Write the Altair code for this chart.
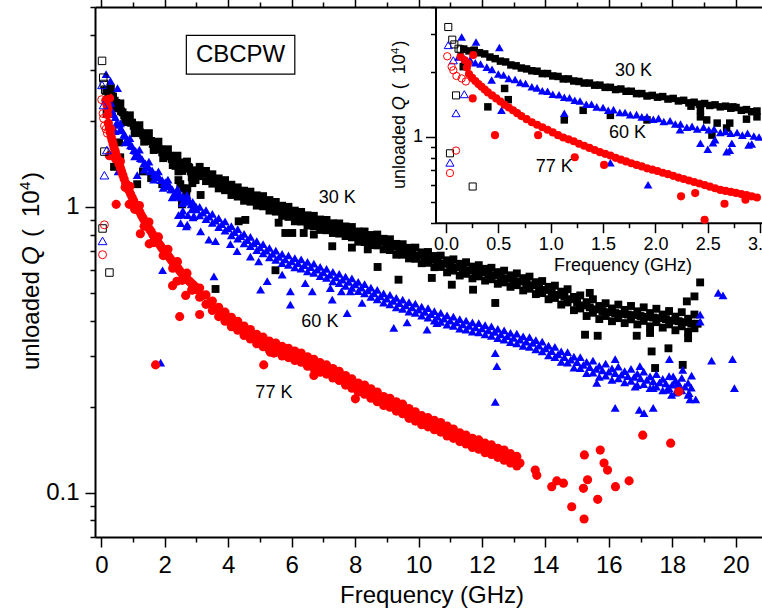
import altair as alt
import pandas as pd

FONT = "Liberation Sans"

# ---------------- data (frequency GHz, unloaded Q in units of 1e4) ----------------
# 30 K  (black squares)
s30_low = [(0.17,2.56),(0.22,2.51),(0.27,2.53),(0.32,2.46),(0.37,2.43),(0.42,2.35),(0.47,2.31),(0.52,2.25),(0.57,2.23),(0.62,2.16),
           (0.67,2.14),(0.72,2.09),(0.77,2.07),(0.82,2.03),(0.87,2.02),(0.92,1.97),(0.97,1.97),(1.02,1.92),(1.07,1.91),(1.12,1.86),
           (1.17,1.86),(1.22,1.82),(1.27,1.81),(1.32,1.78),(1.37,1.78),(1.42,1.74),(1.47,1.74),(1.52,1.70),(1.57,1.70),(1.62,1.66),
           (1.67,1.67),(1.72,1.63),(1.77,1.63),(1.82,1.59),(1.87,1.59),(1.92,1.55),(1.97,1.56),(2.02,1.53),(2.07,1.54),(2.12,1.50),
           (2.17,1.51),(2.22,1.47),(2.27,1.48),(2.32,1.44),(2.37,1.45),(2.42,1.42),(2.47,1.43),(2.52,1.40),(2.57,1.41),(2.62,1.38),
           (2.67,1.39),(2.72,1.36),(2.77,1.37),(2.82,1.33),(2.87,1.34),(2.92,1.31),(2.97,1.32)]
s30_low_main = [(0.3,2.6),(0.45,2.21),(0.6,2.3),(0.75,1.98),(0.9,2.09),(1.05,1.81),(1.2,1.93),(1.35,1.69),(1.5,1.81),(1.65,1.58),
                (1.8,1.69),(1.95,1.48),(2.1,1.59),(2.25,1.40),(2.4,1.51),(2.55,1.335),(2.7,1.44),(2.85,1.27)]
s30_rowA = [(3.0,1.34),(3.2,1.31),(3.4,1.27),(3.6,1.23),(3.8,1.20),(4.0,1.17),(4.2,1.14),(4.4,1.11),(4.6,1.09),(4.8,1.07),
            (5.0,1.05),(5.2,1.03),(5.4,1.01),(5.6,0.985),(5.8,0.965),(6.0,0.945),(6.2,0.93),(6.4,0.91),(6.6,0.895),(6.8,0.88),
            (7.0,0.865),(7.2,0.852),(7.4,0.84),(7.6,0.83),(7.8,0.82),(8.0,0.80),(8.2,0.785),(8.4,0.775),(8.6,0.765),(8.8,0.755),
            (9.0,0.74),(9.2,0.725),(9.4,0.71),(9.6,0.70),(9.8,0.69),(10.0,0.675),(10.2,0.665),(10.4,0.655),(10.6,0.645),(10.8,0.632),
            (11.0,0.625),(11.2,0.615),(11.4,0.608),(11.6,0.60),(11.8,0.595),(12.0,0.59),(12.2,0.582),(12.4,0.575),(12.6,0.568),(12.8,0.56),
            (13.0,0.555),(13.2,0.548),(13.4,0.54),(13.6,0.532),(13.8,0.522),(14.0,0.512),(14.2,0.502),(14.4,0.492),(14.6,0.485),(14.8,0.475),
            (15.0,0.462),(15.2,0.452),(15.4,0.445),(15.6,0.438),(15.8,0.432),(16.0,0.428),(16.2,0.425),(16.4,0.422),(16.6,0.42),(16.8,0.418),
            (17.0,0.415),(17.2,0.412),(17.4,0.41),(17.6,0.408),(17.8,0.405),(18.0,0.40),(18.2,0.398),(18.4,0.395),(18.6,0.39),(18.8,0.39)]
s30_rowB = [(3.1,1.38),(3.3,1.23),(3.5,1.30),(3.7,1.16),(3.9,1.24),(4.1,1.10),(4.3,1.17),(4.5,1.05),(4.7,1.13),(4.9,1.01),
            (5.1,1.09),(5.3,0.97),(5.5,1.04),(5.7,0.93),(5.9,1.0),(6.1,0.89),(6.3,0.96),(6.5,0.86),(6.7,0.93),(6.9,0.83),
            (7.1,0.90),(7.3,0.81),(7.5,0.875),(7.7,0.79),(7.9,0.85),(8.1,0.755),(8.3,0.82),(8.5,0.735),(8.7,0.80),(8.9,0.71),
            (9.1,0.77),(9.3,0.68),(9.5,0.74),(9.7,0.66),(9.9,0.72),(10.1,0.635),(10.3,0.695),(10.5,0.615),(10.7,0.675),(10.9,0.59),
            (11.1,0.655),(11.3,0.575),(11.5,0.64),(11.7,0.562),(11.9,0.625),(12.1,0.552),(12.3,0.612),(12.5,0.538),(12.7,0.598),(12.9,0.525),
            (13.1,0.585),(13.3,0.51),(13.5,0.57),(13.7,0.495),(13.9,0.55),(14.1,0.475),(14.3,0.53),(14.5,0.455),(14.7,0.515),(14.9,0.435),
            (15.1,0.49),(15.3,0.415),(15.5,0.475),(15.7,0.405),(15.9,0.46),(16.1,0.398),(16.3,0.455),(16.5,0.392),(16.7,0.45),(16.9,0.388),
            (17.1,0.445),(17.3,0.382),(17.5,0.44),(17.7,0.378),(17.9,0.432),(18.1,0.37),(18.3,0.428),(18.5,0.365),(18.7,0.42)]
s30_rowC = [(3.1,1.28),(3.3,1.335),(3.5,1.205),(3.7,1.257),(3.9,1.143),(4.1,1.195),(4.3,1.086),(4.5,1.139),(4.7,1.042),(4.9,1.097),
            (5.1,1.004),(5.3,1.056),(5.5,0.962),(5.7,1.009),(5.9,0.922),(6.1,0.970),(6.3,0.888),(6.5,0.934),(6.7,0.856),(6.9,0.903),
            (7.1,0.828),(7.3,0.876),(7.5,0.806),(7.7,0.854),(7.9,0.782),(8.1,0.820),(8.3,0.753),(8.5,0.797),(8.7,0.733),(8.9,0.773),
            (9.1,0.706),(9.3,0.742),(9.5,0.680),(9.7,0.719),(9.9,0.658),(10.1,0.693),(10.3,0.637),(10.5,0.673),(10.7,0.616),(10.9,0.650),
            (11.1,0.598),(11.3,0.632),(11.5,0.583),(11.7,0.618),(11.9,0.571),(12.1,0.607),(12.3,0.558),(12.5,0.591),(12.7,0.544),(12.9,0.576),
            (13.1,0.532),(13.3,0.563),(13.5,0.517),(13.7,0.545),(13.9,0.499),(14.1,0.525),(14.3,0.480),(14.5,0.505),(14.7,0.463),(14.9,0.484),
            (15.1,0.441),(15.3,0.464),(15.5,0.426),(15.7,0.450),(15.9,0.415),(16.1,0.441),(16.3,0.408),(16.5,0.436),(16.7,0.404),(16.9,0.431),
            (17.1,0.399),(17.3,0.425),(17.5,0.395),(17.7,0.420),(17.9,0.388),(18.1,0.413),(18.3,0.382),(18.5,0.406),(18.7,0.376)]
s30_scatter = [(0.165,2.12),(0.40,1.38),(0.56,1.68),(0.595,1.49),(1.13,1.20),(1.31,1.33),(1.57,1.26),(1.92,1.20),(2.34,1.39),(2.43,1.24),
               (2.43,1.33),(2.49,1.20),(2.54,1.02),(2.59,1.16),(2.68,1.10),(2.71,1.16),(2.74,1.38),(2.87,1.21),(2.97,1.24),
               (3.13,1.10),(3.6,0.516),(4.33,0.89),(4.54,0.90),(5.49,0.60),(5.59,0.88),(5.80,0.81),(6.02,0.81),(6.38,0.81),(6.7,0.80),
               (7.28,0.728),(7.9,0.72),(8.4,0.71),(8.71,0.616),(9.37,0.556),(10.42,0.564),(11.05,0.534),(11.72,0.513),(12.42,0.461),
               (15.25,0.357),(15.65,0.354),(16.88,0.354),(17.3,0.362),(17.35,0.312),(17.88,0.32),(17.46,0.273),(18.33,0.28),(18.5,0.347),
               (18.88,0.544),(18.7,0.486),(15.4,0.50),(18.46,0.467)]
s30_open = [(0.022,3.24),(0.06,2.83),(0.08,2.69),(0.12,2.57),(0.14,2.55),(0.096,1.56),(0.038,0.84),(0.255,0.589)]

# 60 K  (blue triangles)
s60_low = [(0.23,2.28),(0.28,2.21),(0.33,2.18),(0.39,2.11),(0.44,2.06),(0.50,1.96),(0.55,1.94),(0.60,1.87),(0.66,1.85),(0.71,1.79),
           (0.76,1.77),(0.82,1.71),(0.87,1.69),(0.92,1.64),(0.97,1.63),(1.02,1.58),(1.08,1.57),(1.13,1.53),(1.18,1.52),(1.23,1.48),
           (1.28,1.47),(1.34,1.42),(1.39,1.42),(1.44,1.38),(1.50,1.37),(1.55,1.33),(1.60,1.34),(1.66,1.30),(1.71,1.30),(1.76,1.27),
           (1.82,1.27),(1.87,1.24),(1.92,1.24),(1.98,1.21),(2.03,1.22),(2.08,1.18),(2.14,1.19),(2.19,1.15),(2.24,1.15),(2.30,1.11),
           (2.35,1.12),(2.40,1.09),(2.46,1.11),(2.51,1.08),(2.56,1.09),(2.62,1.05),(2.67,1.06),(2.72,1.04),(2.78,1.05),(2.83,1.02),
           (2.88,1.04),(2.94,1.01),(2.99,1.00),(0.12,2.35),(0.15,2.91),(0.18,2.30),(0.287,2.76),(0.51,2.60)]
s60_low_main = [(0.3,2.31),(0.45,1.94),(0.6,1.96),(0.75,1.68),(0.9,1.74),(1.05,1.50),(1.2,1.585),(1.35,1.35),(1.5,1.44),(1.65,1.245),
                (1.8,1.33),(1.95,1.165),(2.1,1.245),(2.25,1.083),(2.4,1.155),(2.55,1.03),(2.7,1.10),(2.85,0.98)]
s60_rowA = [(3.0,0.98),(3.2,0.955),(3.4,0.925),(3.6,0.895),(3.8,0.87),(4.0,0.84),(4.2,0.815),(4.4,0.79),(4.6,0.765),(4.8,0.745),
            (5.0,0.722),(5.2,0.703),(5.4,0.685),(5.6,0.668),(5.8,0.655),(6.0,0.645),(6.2,0.635),(6.4,0.625),(6.6,0.615),(6.8,0.603),
            (7.0,0.59),(7.2,0.578),(7.4,0.567),(7.6,0.556),(7.8,0.546),(8.0,0.535),(8.2,0.522),(8.4,0.51),(8.6,0.498),(8.8,0.486),
            (9.0,0.477),(9.2,0.469),(9.4,0.46),(9.6,0.452),(9.8,0.445),(10.0,0.437),(10.2,0.429),(10.4,0.421),(10.6,0.413),(10.8,0.406),
            (11.0,0.40),(11.2,0.394),(11.4,0.388),(11.6,0.383),(11.8,0.379),(12.0,0.376),(12.2,0.37),(12.4,0.365),(12.6,0.358),(12.8,0.353),
            (13.0,0.348),(13.2,0.343),(13.4,0.338),(13.6,0.334),(13.8,0.327),(14.0,0.32),(14.2,0.313),(14.4,0.305),(14.6,0.298),(14.8,0.292),
            (15.0,0.286),(15.2,0.28),(15.4,0.275),(15.6,0.271),(15.8,0.268),(16.0,0.265),(16.2,0.262),(16.4,0.259),(16.6,0.256),(16.8,0.254),
            (17.0,0.251),(17.2,0.248),(17.4,0.245),(17.6,0.243),(17.8,0.241),(18.0,0.239),(18.2,0.237),(18.4,0.235),(18.6,0.233)]
s60_rowB = [(3.1,1.0),(3.3,0.905),(3.5,0.945),(3.7,0.85),(3.9,0.89),(4.1,0.795),(4.3,0.835),(4.5,0.745),(4.7,0.785),(4.9,0.705),
            (5.1,0.74),(5.3,0.666),(5.5,0.703),(5.7,0.635),(5.9,0.676),(6.1,0.614),(6.3,0.655),(6.5,0.595),(6.7,0.633),(6.9,0.572),
            (7.1,0.607),(7.3,0.549),(7.5,0.583),(7.7,0.529),(7.9,0.562),(8.1,0.507),(8.3,0.537),(8.5,0.484),(8.7,0.512),(8.9,0.462),
            (9.1,0.492),(9.3,0.445),(9.5,0.474),(9.7,0.43),(9.9,0.459),(10.1,0.416),(10.3,0.442),(10.5,0.40),(10.7,0.426),(10.9,0.387),
            (11.1,0.413),(11.3,0.375),(11.5,0.40),(11.7,0.366),(11.9,0.392),(12.1,0.358),(12.3,0.382),(12.5,0.347),(12.7,0.37),(12.9,0.336),
            (13.1,0.36),(13.3,0.326),(13.5,0.35),(13.7,0.317),(13.9,0.338),(14.1,0.302),(14.3,0.324),(14.5,0.287),(14.7,0.31),(14.9,0.274),
            (15.1,0.298),(15.3,0.262),(15.5,0.29),(15.7,0.254),(15.9,0.283),(16.1,0.248),(16.3,0.276),(16.5,0.243),(16.7,0.271),(16.9,0.238),
            (17.1,0.265),(17.3,0.232),(17.5,0.26),(17.7,0.228),(17.9,0.256),(18.1,0.224),(18.3,0.252),(18.5,0.22)]
s60_rowC = [(3.1,0.933),(3.3,0.973),(3.5,0.878),(3.7,0.913),(3.9,0.825),(4.1,0.856),(4.3,0.774),(4.5,0.804),(4.7,0.729),(4.9,0.759),
            (5.1,0.687),(5.3,0.718),(5.5,0.652),(5.7,0.684),(5.9,0.627),(6.1,0.662),(6.3,0.608),(6.5,0.642),(6.7,0.588),(6.9,0.617),
            (7.1,0.564),(7.3,0.592),(7.5,0.541),(7.7,0.570),(7.9,0.521),(8.1,0.546),(8.3,0.498),(8.5,0.522),(8.7,0.475),(8.9,0.498),
            (9.1,0.456),(9.3,0.480),(9.5,0.440),(9.7,0.464),(9.9,0.426),(10.1,0.448),(10.3,0.410),(10.5,0.432),(10.7,0.396),(10.9,0.417),
            (11.1,0.383),(11.3,0.405),(11.5,0.372),(11.7,0.394),(11.9,0.364),(12.1,0.386),(12.3,0.354),(12.5,0.374),(12.7,0.343),(12.9,0.362),
            (13.1,0.333),(13.3,0.352),(13.5,0.324),(13.7,0.342),(13.9,0.312),(14.1,0.327),(14.3,0.298),(14.5,0.312),(14.7,0.285),(14.9,0.299),
            (15.1,0.273),(15.3,0.287),(15.5,0.263),(15.7,0.278),(15.9,0.257),(16.1,0.272),(16.3,0.251),(16.5,0.266),(16.7,0.246),(16.9,0.261),
            (17.1,0.240),(17.3,0.255),(17.5,0.235),(17.7,0.250),(17.9,0.232),(18.1,0.246),(18.3,0.228),(18.5,0.242)]
s60_scatter = [(0.436,1.84),(0.53,1.33),(1.13,1.29),(1.57,0.76),(1.93,0.60),(2.235,1.08),(2.43,0.935),(2.5,0.877),(2.57,0.97),
               (2.68,0.855),(2.73,0.935),(2.89,0.918),(1.87,0.285),(2.55,0.94),(2.71,0.867),(2.92,0.927),
               (3.13,0.82),(3.39,0.768),(3.6,0.758),(4.07,0.74),(4.28,0.70),(4.7,0.67),(4.96,0.645),(3.55,0.571),(5.23,0.55),
               (5.02,0.513),(5.7,0.579),(5.96,0.506),(5.96,0.455),(6.43,0.541),(6.65,0.506),(7.22,0.52),(7.28,0.474),(7.57,0.506),
               (7.85,0.506),(8.22,0.461),(7.75,0.425),(9.22,0.377),(9.64,0.394),(10.27,0.372),(10.58,0.392),(12.42,0.308),
               (12.47,0.277),(12.42,0.208),(15.62,0.242),(16.2,0.293),(16.2,0.198),(16.83,0.235),(16.98,0.277),(16.96,0.195),
               (17.11,0.19),(17.4,0.198),(17.4,0.232),(17.83,0.229),(17.91,0.293),(17.98,0.22),(18.03,0.255),(18.19,0.242),
               (18.33,0.269),(18.53,0.223),(18.56,0.212),(18.61,0.257),(18.74,0.212),(18.88,0.42),(18.88,0.397),(19.24,0.29),
               (19.45,0.50),(19.6,0.49),(19.9,0.293),(19.96,0.232)]
s60_open = [(0.022,2.67),(0.07,2.27),(0.175,1.58),(0.096,1.29),(0.038,0.76)]

# 77 K  (red circles)
s77_low = [(0.14,2.36),(0.18,2.27),(0.21,2.20),(0.26,2.40),
           (0.20,2.10),(0.22,1.96),(0.25,1.88),(0.28,1.82),(0.31,1.76),(0.34,1.71),(0.37,1.66),(0.40,1.61),(0.44,1.56),(0.48,1.51),
           (0.52,1.46),(0.56,1.41),(0.60,1.37),(0.64,1.33),(0.68,1.29),(0.72,1.25),(0.77,1.21),(0.82,1.17),(0.87,1.14),(0.92,1.11),
           (0.97,1.08),(1.02,1.05),(1.07,1.02),(1.12,0.995),(1.17,0.975),(1.22,0.955),(1.27,0.93),(1.32,0.91),(1.37,0.89),(1.42,0.87),
           (1.47,0.85),(1.52,0.835),(1.57,0.82),(1.62,0.80),(1.67,0.785),(1.72,0.77),(1.77,0.755),(1.82,0.742),(1.87,0.73),(1.92,0.715),
           (1.97,0.705),(2.02,0.695),(2.07,0.682),(2.12,0.672),(2.17,0.66),(2.22,0.648),(2.27,0.638),(2.32,0.628),(2.37,0.618),(2.42,0.608),
           (2.47,0.598),(2.52,0.588),(2.57,0.578),(2.62,0.568),(2.67,0.562),(2.72,0.556),(2.77,0.55),(2.82,0.543),(2.87,0.537),(2.92,0.53),
           (2.97,0.524)]
s77_low_main = [(0.3,1.87),(0.45,1.47),(0.6,1.44),(0.75,1.17),(0.9,1.18),(1.05,0.98),(1.2,1.01),(1.35,0.855),(1.5,0.885),(1.65,0.75),
                (1.8,0.785),(1.95,0.675),(2.1,0.71),(2.25,0.61),(2.4,0.643),(2.55,0.553),(2.7,0.586),(2.85,0.513)]
s77_rowA = [(3.0,0.513),(3.2,0.49),(3.4,0.46),(3.6,0.44),(3.8,0.42),(4.0,0.405),(4.2,0.39),(4.4,0.376),(4.6,0.364),(4.8,0.352),
            (5.0,0.341),(5.2,0.332),(5.4,0.324),(5.6,0.318),(5.8,0.311),(6.0,0.305),(6.2,0.30),(6.4,0.293),(6.6,0.286),(6.8,0.279),
            (7.0,0.272),(7.2,0.266),(7.4,0.26),(7.6,0.252),(7.8,0.244),(8.0,0.237),(8.2,0.232),(8.4,0.227),(8.6,0.22),(8.8,0.213),
            (9.0,0.208),(9.2,0.204),(9.4,0.199),(9.6,0.193),(9.8,0.187),(10.0,0.182),(10.2,0.178),(10.4,0.175),(10.6,0.171),(10.8,0.167),
            (11.0,0.163),(11.2,0.159),(11.4,0.155),(11.6,0.152),(11.8,0.149),(12.0,0.146),(12.2,0.143),(12.4,0.14),(12.6,0.137),(12.8,0.134),
            (13.0,0.131),(13.2,0.127)]
s77_rowB = [(3.1,0.52),(3.3,0.456),(3.5,0.468),(3.7,0.413),(3.9,0.428),(4.1,0.381),(4.3,0.398),(4.5,0.355),(4.7,0.372),(4.9,0.332),
            (5.1,0.35),(5.3,0.315),(5.5,0.334),(5.7,0.301),(5.9,0.32),(6.1,0.29),(6.3,0.308),(6.5,0.277),(6.7,0.293),(6.9,0.264),
            (7.1,0.28),(7.3,0.252),(7.5,0.266),(7.7,0.238),(7.9,0.25),(8.1,0.225),(8.3,0.238),(8.5,0.214),(8.7,0.225),(8.9,0.202),
            (9.1,0.214),(9.3,0.193),(9.5,0.204),(9.7,0.182),(9.9,0.192),(10.1,0.173),(10.3,0.183),(10.5,0.166),(10.7,0.176),(10.9,0.158),
            (11.1,0.167),(11.3,0.151),(11.5,0.159),(11.7,0.144),(11.9,0.153),(12.1,0.138),(12.3,0.147),(12.5,0.133),(12.7,0.141),(12.9,0.127),
            (13.1,0.134)]
s77_rowC = [(3.1,0.483),(3.3,0.492),(3.5,0.434),(3.7,0.445),(3.9,0.398),(4.1,0.411),(4.3,0.370),(4.5,0.383),(4.7,0.345),(4.9,0.358),
            (5.1,0.324),(5.3,0.339),(5.5,0.310),(5.7,0.325),(5.9,0.297),(6.1,0.313),(6.3,0.286),(6.5,0.299),(6.7,0.272),(6.9,0.285),
            (7.1,0.260),(7.3,0.272),(7.5,0.247),(7.7,0.257),(7.9,0.232),(8.1,0.242),(8.3,0.221),(8.5,0.231),(8.7,0.208),(8.9,0.217),
            (9.1,0.199),(9.3,0.208),(9.5,0.189),(9.7,0.197),(9.9,0.178),(10.1,0.186),(10.3,0.170),(10.5,0.179),(10.7,0.163),(10.9,0.171),
            (11.1,0.155),(11.3,0.162),(11.5,0.148),(11.7,0.155),(11.9,0.142),(12.1,0.149),(12.3,0.136),(12.5,0.143),(12.7,0.130),(12.9,0.137),
            (13.1,0.124)]
s77_scatter = [(0.255,1.51),(0.468,1.02),(0.88,1.02),(1.23,0.805),(1.51,0.742),(2.245,0.53),(2.38,0.549),(2.47,0.413),(2.66,0.49),
               (2.86,0.511),(1.71,0.28),(3.1,0.42),(5.12,0.28),(5.33,0.31),(5.44,0.308),(6.7,0.257),(8.01,0.213),(13.68,0.12),
               (13.73,0.115),(14.2,0.105),(14.36,0.11),(14.57,0.108),(14.83,0.0893),(15.22,0.0809),(15.2,0.1036),(15.33,0.111),
               (15.23,0.1356),(15.73,0.141),(15.85,0.127),(15.96,0.12),(15.65,0.0948),(16.21,0.105),(16.64,0.110),(17.07,0.159),
               (17.95,0.149),(18.21,0.226)]
s77_open = [(0.012,2.37),(0.054,2.12),(0.07,2.04),(0.10,1.92),(0.15,1.87),(0.19,1.81),(0.096,0.865),(0.038,0.68)]

# tick values
main_x_ticks = [0, 1, 2, 3, 4, 5, 6, 7, 8, 9, 10, 11, 12, 13, 14, 15, 16, 17, 18, 19, 20]
main_y_ticks = [0.07, 0.08, 0.09, 0.1, 0.2, 0.3, 0.4, 0.5, 0.6, 0.7, 0.8, 0.9, 1, 2, 3, 4, 5]
inset_x_ticks = [0.0, 0.25, 0.5, 0.75, 1.0, 1.25, 1.5, 1.75, 2.0, 2.25, 2.5, 2.75, 3.0]
inset_y_ticks = [0.4, 0.5, 0.6, 0.7, 0.8, 0.9, 1, 2, 3, 4]

# ---------------- frames ----------------
def frame(*parts):
    return pd.DataFrame([p for part in parts for p in part], columns=["f", "q"])

# shared low-frequency data (shown in both plots)
l30 = frame(s30_low, s30_scatter)
l60 = frame(s60_low, s60_scatter)
l77 = frame(s77_low, s77_scatter)
# full data of the main plot
d30 = frame(s30_low, s30_low_main, s30_rowA, s30_rowB, s30_rowC, s30_scatter)
d60 = frame(s60_low, s60_low_main, s60_rowA, s60_rowB, s60_rowC, s60_scatter)
d77 = frame(s77_low, s77_low_main, s77_rowA, s77_rowB, s77_rowC, s77_scatter)
o30, o60, o77 = frame(s30_open), frame(s60_open), frame(s77_open)

def inset_cut(d):
    return d[(d.f >= -0.1) & (d.f <= 3.02) & (d.q >= 0.4) & (d.q <= 4)]

def cond(test, big, small):
    return {"condition": {"test": test, "value": big}, "value": small}

common = dict(grid=False, domainColor="black", domainWidth=2, tickColor="black", tickWidth=1.5,
              labelColor="black", labelFont=FONT, titleFont=FONT, titleColor="black",
              titleFontWeight="normal", labelFlush=False, labelOverlap=False)

EVEN = "datum.value % 2 == 0"
MAJ_Y = "datum.value == 1 || datum.value == 0.1"
HALF = "abs(datum.value * 2 - round(datum.value * 2)) < 0.001"

X_MAIN = alt.X("f:Q", scale=alt.Scale(domain=[-0.2, 20.83], nice=False, zero=False),
               axis=alt.Axis(values=main_x_ticks, labelExpr=f"{EVEN} ? datum.label : ''",
                             tickSize=cond(EVEN, 10, 5), labelFontSize=24, labelPadding=6,
                             title="Frequency (GHz)", titleFontSize=24, titleX=336.5, titleY=65,
                             titleBaseline="alphabetic", **common))
Y_MAIN = alt.Y("q:Q", scale=alt.Scale(type="log", domain=[0.07, 5], nice=False),
               axis=alt.Axis(values=main_y_ticks, labelExpr=f"{MAJ_Y} ? datum.label : ''",
                             tickSize=cond(MAJ_Y, 10, 5), labelFontSize=24, labelPadding=6,
                             title="", **common))
X_TOP = alt.X("f:Q", scale=alt.Scale(domain=[-0.2, 20.83], nice=False, zero=False),
              axis=alt.Axis(orient="top", values=main_x_ticks, labels=False,
                            tickSize=cond(EVEN, 10, 5), title="", **common))
X_IN = alt.X("f:Q", scale=alt.Scale(domain=[-0.1, 3.02], range=[340.5, 667.2], nice=False, zero=False),
             axis=alt.Axis(orient="bottom", offset=-314.3, values=inset_x_ticks, format=".1f",
                           labelExpr=f"{HALF} ? datum.label : ''", tickSize=cond(HALF, 10, 5),
                           labelFontSize=18, labelPadding=3, title="Frequency (GHz)", titleFontSize=18,
                           titleX=527.5, titleY=48, titleBaseline="alphabetic", **common))
Y_IN = alt.Y("q:Q", scale=alt.Scale(type="log", domain=[0.4, 4], range=[215.7, 0.3], nice=False),
             axis=alt.Axis(orient="left", offset=-340.5, values=inset_y_ticks,
                           labelExpr="datum.value == 1 ? datum.label : ''",
                           tickSize=cond("datum.value == 1", 10, 5), labelFontSize=18, labelPadding=3,
                           title="", **common))

def pts(d, shape, color, size, X, Y, filled=True):
    if filled:
        m = alt.Chart(d).mark_point(shape=shape, filled=True, color=color, size=size, opacity=1, strokeWidth=0)
    else:
        m = alt.Chart(d).mark_point(shape=shape, filled=False, color=color, size=size, opacity=1, strokeWidth=1)
    return m.encode(x=X, y=Y)

def txt_data(t, f, q, size, X, Y):
    return alt.Chart(pd.DataFrame({"f": [f], "q": [q], "t": [t]})).mark_text(
        font=FONT, fontSize=size, color="black", align="center", baseline="middle").encode(x=X, y=Y, text="t:N")

def rot(t, x, y, size, italic=False):
    return alt.Chart(pd.DataFrame({"t": [t]})).mark_text(
        angle=270, align="left", baseline="alphabetic", font=FONT, fontSize=size,
        fontStyle="italic" if italic else "normal", color="black").encode(
        text="t:N", x=alt.value(x), y=alt.value(y))

def ytitle(x, y0, k, sup_shift):
    size = 24 * k
    return [rot("unloaded", x, y0, size),
            rot("Q", x, y0 - 105 * k, size, italic=True),
            rot("(", x, y0 - 133 * k, size),
            rot("10", x, y0 - 153 * k, size),
            rot("4", x - sup_shift, y0 - 180 * k, 15 * k),
            rot(")", x, y0 - 190 * k, size)]

# CBCPW box (data coordinates of the main plot)
box = alt.Chart(pd.DataFrame({"f": [2.68], "f2": [6.10], "q": [2.91], "q2": [3.98]})).mark_rect(
    fill="white", stroke="black", strokeWidth=1.2).encode(x=X_MAIN, x2="f2:Q", y=Y_MAIN, y2="q2:Q")

main = alt.layer(
    pts(d30, "square", "black", 62, X_MAIN, Y_MAIN),
    pts(d60, "triangle-up", "blue", 80, X_MAIN, Y_MAIN),
    pts(d77, "circle", "red", 84, X_MAIN, Y_MAIN),
    pts(o30, "square", "black", 56, X_MAIN, Y_MAIN, filled=False),
    pts(o60, "triangle-up", "blue", 76, X_MAIN, Y_MAIN, filled=False),
    pts(o77, "circle", "red", 64, X_MAIN, Y_MAIN, filled=False),
    box,
    txt_data("CBCPW", 4.39, 3.40, 24, X_MAIN, Y_MAIN),
    txt_data("30 K", 7.44, 1.078, 18, X_MAIN, Y_MAIN),
    txt_data("60 K", 6.89, 0.396, 18, X_MAIN, Y_MAIN),
    txt_data("77 K", 5.44, 0.2235, 18, X_MAIN, Y_MAIN),
    *ytitle(-56.5, 363, 1.0, 8.5),
)

top = alt.Chart(pd.DataFrame({"f": [0, 20]})).mark_point(opacity=0).encode(x=X_TOP)

inset = alt.layer(
    pts(inset_cut(l30), "square", "black", 56, X_IN, Y_IN),
    pts(inset_cut(l60), "triangle-up", "blue", 76, X_IN, Y_IN),
    pts(inset_cut(l77), "circle", "red", 66, X_IN, Y_IN),
    pts(inset_cut(o30), "square", "black", 50, X_IN, Y_IN, filled=False),
    pts(inset_cut(o60), "triangle-up", "blue", 66, X_IN, Y_IN, filled=False),
    pts(inset_cut(o77), "circle", "red", 54, X_IN, Y_IN, filled=False),
    txt_data("30 K", 1.79, 2.03, 18, X_IN, Y_IN),
    txt_data("60 K", 1.733, 1.043, 18, X_IN, Y_IN),
    txt_data("77 K", 1.034, 0.726, 18, X_IN, Y_IN),
    *ytitle(310, 182, 0.75, 6.4),
)

chart = alt.layer(main, top, inset).resolve_scale(x="independent", y="independent").properties(
    width=667, height=530,
    autosize=alt.AutoSizeParams(type="none"),
    padding={"left": 95, "top": 7, "right": 0, "bottom": 72},
).configure_view(strokeWidth=0)

chart.save("out.html", embed_options={"renderer": "svg", "actions": False})
